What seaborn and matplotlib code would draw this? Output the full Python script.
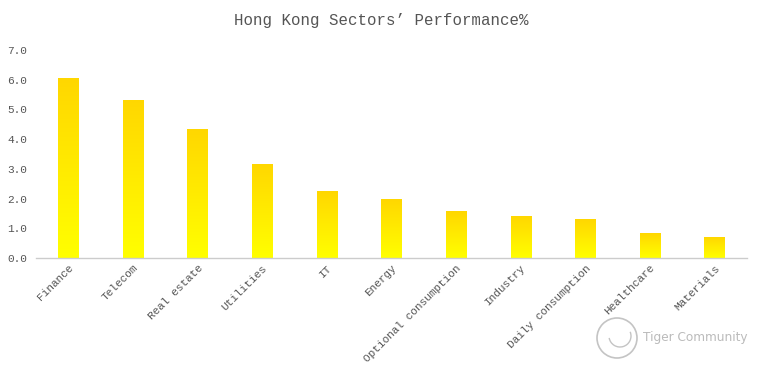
import numpy as np
import pandas as pd
import matplotlib
matplotlib.use("Agg")
import matplotlib.pyplot as plt
import seaborn as sns
from matplotlib.patches import Ellipse, Arc

# ==========================================
# DATA
# ==========================================
sectors = [
    "Finance", "Telecom", "Real estate", "Utilities", "IT", "Energy",
    "Optional consumption", "Industry", "Daily consumption",
    "Healthcare", "Materials",
]
performance = [6.05, 5.32, 4.35, 3.17, 2.25, 1.98, 1.57, 1.40, 1.30, 0.83, 0.70]
y_ticks = [0.0, 1.0, 2.0, 3.0, 4.0, 5.0, 6.0, 7.0]

TITLE = "Hong Kong Sectors\u2019 Performance%"
MONO = ["Liberation Mono", "DejaVu Sans Mono"]
TEXT_GREY = "#555555"
W_PX, H_PX = 762, 375

sns.set_style("white")
plt.rcParams["font.family"] = MONO

df = pd.DataFrame({"sector": sectors, "perf": performance})

fig = plt.figure(figsize=(W_PX / 100, H_PX / 100), dpi=100)
ax = fig.add_axes([0.047, 0.312, 0.933, 0.555])

sns.barplot(data=df, x="sector", y="perf", color="#FFEA00", width=0.31,
            saturation=1, ax=ax)

# gradient fill: gold at top -> bright yellow at bottom
top_c = np.array([255, 215, 0]) / 255
bot_c = np.array([255, 255, 0]) / 255
grad = np.linspace(0, 1, 256)[:, None]
img = top_c[None, None, :] * (1 - grad[..., None]) + bot_c[None, None, :] * grad[..., None]
for p in ax.patches:
    x0, y0 = p.get_x(), p.get_y()
    w, h = p.get_width(), p.get_height()
    p.set_edgecolor("none")
    im = ax.imshow(img, extent=[x0, x0 + w, y0, y0 + h], aspect="auto",
                   interpolation="bilinear", zorder=p.get_zorder() + 0.1)
    im.set_clip_path(p)

ax.set_xlim(-0.5, len(sectors) - 0.5)
ax.set_ylim(0, 7)
ax.set_yticks(y_ticks)
ax.set_yticklabels([f"{v:.1f}" for v in y_ticks])
ax.set_xlabel("")
ax.set_ylabel("")

for s in ["top", "right", "left"]:
    ax.spines[s].set_visible(False)
ax.spines["bottom"].set_color("#cccccc")
ax.spines["bottom"].set_linewidth(1)

ax.tick_params(axis="both", length=0, colors=TEXT_GREY, labelsize=8)
ax.tick_params(axis="y", pad=6)
plt.setp(ax.get_xticklabels(), rotation=45, ha="right", va="top",
         rotation_mode="anchor")

fig.text(0.5, 0.945, TITLE, ha="center", va="center", fontsize=11.3,
         color=TEXT_GREY, family=MONO)

# watermark (logo circle + text)
cx, cy, r = 617 / W_PX, 1 - 338 / H_PX, 20
logo = Ellipse((cx, cy), 2 * r / W_PX, 2 * r / H_PX, transform=fig.transFigure,
               fill=False, edgecolor="#c4c4c4", linewidth=1.2)
swirl = Arc((cx + 3 / W_PX, cy + 2 / H_PX), 22 / W_PX, 22 / H_PX, angle=0,
            theta1=200, theta2=40, transform=fig.transFigure,
            edgecolor="#c4c4c4", linewidth=1.0)
fig.add_artist(logo)
fig.add_artist(swirl)
fig.text(643 / W_PX, cy, "Tiger Community", ha="left", va="center",
         fontsize=8.7, color="#bbbbbb", family=["DejaVu Sans"])

fig.savefig("out.png", dpi=100)
